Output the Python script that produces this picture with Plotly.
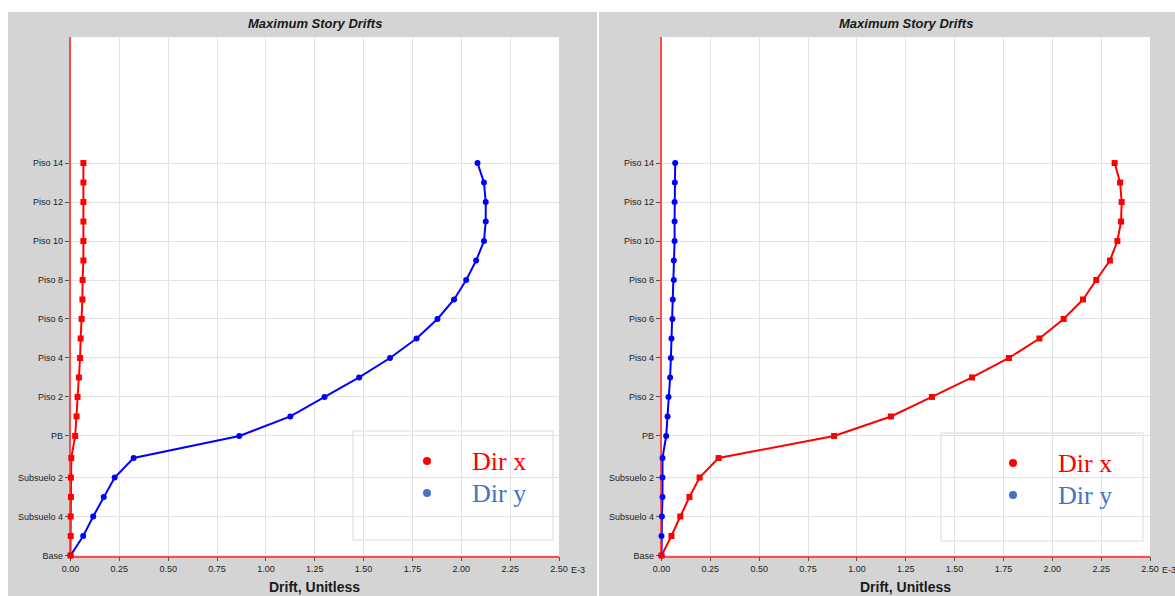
import plotly.graph_objects as go

W, H = 1175, 596

# ---------------- data ----------------
stories = ["Base", "Subsuelo 5", "Subsuelo 4", "Subsuelo 3", "Subsuelo 2", "Subsuelo 1", "PB",
           "Piso 1", "Piso 2", "Piso 3", "Piso 4", "Piso 5", "Piso 6", "Piso 7",
           "Piso 8", "Piso 9", "Piso 10", "Piso 11", "Piso 12", "Piso 13", "Piso 14"]
elevations = [0, 3, 6, 9, 12, 15, 18.4, 21.4, 24.4, 27.4, 30.4, 33.4, 36.4, 39.4,
              42.4, 45.4, 48.4, 51.4, 54.4, 57.4, 60.4]

left_dir_x = [0.000, 0.001, 0.001, 0.002, 0.002, 0.004, 0.024, 0.031, 0.036, 0.043, 0.049,
              0.052, 0.057, 0.061, 0.062, 0.066, 0.066, 0.066, 0.066, 0.066, 0.066]
left_dir_y = [0.000, 0.065, 0.116, 0.170, 0.226, 0.323, 0.864, 1.125, 1.300, 1.477, 1.635,
              1.771, 1.878, 1.963, 2.025, 2.076, 2.116, 2.125, 2.125, 2.116, 2.083]
right_dir_x = [0.000, 0.051, 0.096, 0.143, 0.195, 0.292, 0.883, 1.174, 1.384, 1.589, 1.778,
               1.934, 2.058, 2.157, 2.225, 2.295, 2.333, 2.352, 2.355, 2.347, 2.319]
right_dir_y = [0.000, 0.000, 0.002, 0.005, 0.005, 0.005, 0.024, 0.031, 0.036, 0.044, 0.048,
               0.051, 0.056, 0.058, 0.063, 0.063, 0.067, 0.067, 0.067, 0.068, 0.070]

y_tick_labels = ["Base", "Subsuelo 4", "Subsuelo 2", "PB", "Piso 2", "Piso 4", "Piso 6",
                 "Piso 8", "Piso 10", "Piso 12", "Piso 14"]
x_tick_vals = [0, 0.25, 0.5, 0.75, 1.0, 1.25, 1.5, 1.75, 2.0, 2.25, 2.5]
x_tick_labels = ["0.00", "0.25", "0.50", "0.75", "1.00", "1.25", "1.50", "1.75", "2.00", "2.25", "2.50"]

title_text = "Maximum Story Drifts"
x_title = "Drift, Unitless"
legend_labels = ["Dir x", "Dir y"]

# ---------------- styling ----------------
RED = "#ff0000"
BLUE = "#0000ff"
LEG_RED = "#ff0000"
LEG_BLUE = "#4472c4"
PANEL = "#d4d4d4"
GRID = "#e2e2e2"


def fx(px):
    return px / W


def fy(py):
    return 1 - py / H


y_tick_vals = [elevations[stories.index(s)] for s in y_tick_labels]

fig = go.Figure()

panels = [
    dict(xa="x", ya="y", gx0=8, gx1=597, px0=70.5, px1=559, blue=left_dir_y, red=left_dir_x,
         box=(353, 431, 553, 540), dot=427, txt=470),
    dict(xa="x2", ya="y2", gx0=599, gx1=1175, px0=661.5, px1=1150, blue=right_dir_y, red=right_dir_x,
         box=(941, 433, 1143, 541), dot=1013, txt=1056),
]

top_px, bot_px = 37, 555.5
shapes = []
annotations = []

for i, p in enumerate(panels):
    fig.add_trace(go.Scatter(
        x=p["blue"], y=elevations, xaxis=p["xa"], yaxis=p["ya"], mode="lines+markers",
        line=dict(color=BLUE, width=2), marker=dict(symbol="circle", size=6, color=BLUE),
        cliponaxis=False, showlegend=False, name=legend_labels[1]))
    fig.add_trace(go.Scatter(
        x=p["red"], y=elevations, xaxis=p["xa"], yaxis=p["ya"], mode="lines+markers",
        line=dict(color=RED, width=2), marker=dict(symbol="square", size=6, color=RED),
        cliponaxis=False, showlegend=False, name=legend_labels[0]))

    # gray panel and white plotting area
    shapes.append(dict(type="rect", xref="paper", yref="paper", layer="below",
                       x0=fx(p["gx0"]), x1=fx(p["gx1"]), y0=fy(H), y1=fy(12),
                       fillcolor=PANEL, line=dict(width=0)))
    shapes.append(dict(type="rect", xref="paper", yref="paper", layer="below",
                       x0=fx(p["px0"]), x1=fx(p["px1"]), y0=fy(bot_px), y1=fy(top_px),
                       fillcolor="white", line=dict(width=0)))
    # legend box
    bx0, by0, bx1, by1 = p["box"]
    shapes.append(dict(type="rect", xref="paper", yref="paper", layer="above",
                       x0=fx(bx0), x1=fx(bx1), y0=fy(by1), y1=fy(by0),
                       fillcolor="rgba(255,255,255,0)", line=dict(color="#e8e8e8", width=1.5)))
    for j, (lab, col, cy) in enumerate([(legend_labels[0], LEG_RED, by0 + 30),
                                         (legend_labels[1], LEG_BLUE, by0 + 62)]):
        r = 4
        shapes.append(dict(type="circle", xref="paper", yref="paper", layer="above",
                           x0=fx(p["dot"] - r), x1=fx(p["dot"] + r), y0=fy(cy + r), y1=fy(cy - r),
                           fillcolor=col, line=dict(width=0)))
        annotations.append(dict(xref="paper", yref="paper", x=fx(p["txt"]), y=fy(cy),
                                xanchor="left", yanchor="middle", showarrow=False, text=lab,
                                font=dict(family="Liberation Serif", size=26, color=col)))

    cx = (p["px0"] + p["px1"]) / 2
    annotations.append(dict(xref="paper", yref="paper", x=fx(cx), y=fy(23), xanchor="center",
                            yanchor="middle", showarrow=False, text="<b><i>" + title_text + "</i></b>",
                            font=dict(family="Liberation Sans", size=13, color="#1a1a1a")))
    annotations.append(dict(xref="paper", yref="paper", x=fx(cx), y=fy(587), xanchor="center",
                            yanchor="middle", showarrow=False, text="<b>" + x_title + "</b>",
                            font=dict(family="Liberation Sans", size=14, color="#1a1a1a")))
    annotations.append(dict(xref="paper", yref="paper", x=fx(p["px1"] + 10), y=fy(569.5),
                            xanchor="left", yanchor="middle", showarrow=False, text="E-3",
                            font=dict(family="Liberation Sans", size=9, color="#222222")))

    axis_common = dict(showline=True, linecolor="#ff4a4a", linewidth=1.5, layer="below traces",
                       showgrid=True, gridcolor=GRID, gridwidth=1, zeroline=False, automargin=False,
                       ticks="outside", ticklen=4, tickcolor="#555555", tickwidth=1,
                       tickfont=dict(family="Liberation Sans", size=9, color="#222222"))
    xkey = "xaxis" if i == 0 else "xaxis2"
    ykey = "yaxis" if i == 0 else "yaxis2"
    fig.update_layout(**{
        xkey: dict(domain=[fx(p["px0"]), fx(p["px1"])], range=[0, 2.5], anchor=p["ya"],
                   tickmode="array", tickvals=x_tick_vals, ticktext=x_tick_labels, **axis_common),
        ykey: dict(domain=[fy(bot_px), fy(top_px)], range=[0, 79.8], anchor=p["xa"],
                   tickmode="array", tickvals=y_tick_vals, ticktext=y_tick_labels, **axis_common),
    })

fig.update_layout(
    width=W, height=H, margin=dict(l=0, r=0, t=0, b=0, autoexpand=False),
    paper_bgcolor="white", plot_bgcolor="rgba(0,0,0,0)",
    shapes=shapes, annotations=annotations, showlegend=False,
)

fig.write_html("out.html")
